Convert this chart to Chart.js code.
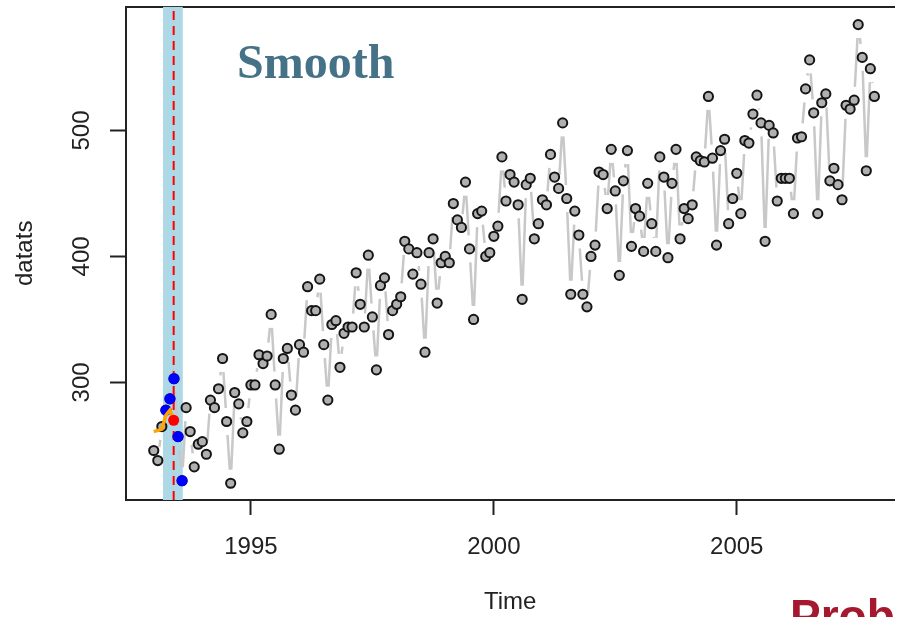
<!DOCTYPE html>
<html><head><meta charset="utf-8">
<script src="https://cdn.jsdelivr.net/npm/chart.js@4/dist/chart.umd.min.js"></script>
<style>
html,body{margin:0;padding:0;background:#fff;overflow:hidden;}
#wrap{position:relative;width:901px;height:617px;overflow:hidden;}
canvas{position:absolute;left:0;top:0;}
#smooth{position:absolute;left:237px;top:38px;font:bold 48px "Liberation Serif";color:#467287;line-height:1;white-space:nowrap;}
#prob{position:absolute;left:790px;top:593px;font:bold 46px "Liberation Sans";color:#A5192E;line-height:1;white-space:nowrap;}
</style></head>
<body><div id="wrap"><canvas id="c" width="901" height="617"></canvas><div id="smooth">Smooth</div><div id="prob">Prob</div></div>
<script>
// monthly series, starting Jan 1993
const tsStart = 1993, tsFrequency = 12;
const datats = [
 246,238,265,278,287,303,257,222,280,261,233,251,
 253,243,286,280,295,319,269,220,292,283,260,269,
 298,298,322,315,321,354,298,247,319,327,290,278,
 330,324,376,357,357,382,330,286,346,349,312,339,
 344,344,387,362,344,401,352,310,377,383,338,357,
 362,368,412,406,386,403,378,324,403,414,363,395,
 400,395,442,429,423,459,406,350,434,436,400,403,
 416,424,479,444,465,459,441,366,457,462,414,426,
 445,441,481,463,454,506,446,370,436,417,370,360,
 400,409,467,465,438,485,452,385,460,484,408,438,
 432,404,458,426,404,479,463,399,458,485,414,438,
 430,441,479,476,475,527,478,409,484,493,426,446,
 466,434,492,490,513,528,506,412,504,498,444,462,
 462,462,434,494,495,533,556,514,434,522,529,460,
 470,457,445,520,517,524,584,558,468,549,527
];
const windowIdx = [3,4,5,6,7];            // points inside the kernel window (blue)
const smoothTrace = [261,262,263,274,278,270]; // smoothed values so far (orange), from Jan 1993
const smoothValue = [270];                // current smoothed value (red)
const windowCentre = [1993.41];
const windowBand = [1993.19, 1993.60];
const xTicks = [1995, 2000, 2005];
const yTicks = [300, 400, 500];

const X_MIN = 1992.429, X_MAX = 2008.245, Y_MIN = 206.7, Y_MAX = 598.3;
const GAP = 13.5;
const time = datats.map((_, i) => tsStart + i / tsFrequency);
const pts = datats.map((v, i) => ({x: time[i], y: v}));
const BAND_INDEX = 5;

const gappedLines = {
  id: 'gappedLines',
  afterDatasetDraw(chart, args) {
    if (args.index !== BAND_INDEX) return;
    const {ctx, chartArea: a} = chart;
    const xs = chart.scales.x, ys = chart.scales.y;
    ctx.save();
    ctx.beginPath(); ctx.rect(a.left, a.top, a.right - a.left, a.bottom - a.top); ctx.clip();
    ctx.strokeStyle = '#c8c8c8'; ctx.lineWidth = 2.5; ctx.lineCap = 'butt';
    ctx.beginPath();
    for (let i = 0; i < datats.length - 1; i++) {
      const x0 = xs.getPixelForValue(time[i]), y0 = ys.getPixelForValue(datats[i]);
      const x1 = xs.getPixelForValue(time[i+1]), y1 = ys.getPixelForValue(datats[i+1]);
      const dx = x1 - x0, dy = y1 - y0, L = Math.hypot(dx, dy);
      if (L <= 2 * GAP) continue;
      const ux = dx / L, uy = dy / L;
      ctx.moveTo(x0 + ux * GAP, y0 + uy * GAP);
      ctx.lineTo(x1 - ux * GAP, y1 - uy * GAP);
    }
    ctx.stroke();
    ctx.restore();
  }
};

const FONT = {family: 'Liberation Sans', size: 24};
const INK = '#222';
function zeroPad(s) { s.paddingTop = 0; s.paddingBottom = 0; s.paddingLeft = 0; s.paddingRight = 0; }

new Chart(document.getElementById('c'), {
  type: 'scatter',
  data: {
    datasets: [
      {type: 'scatter', label: 'smooth value', data: smoothValue.map(v => ({x: windowCentre[0], y: v})),
       pointRadius: 5.5, backgroundColor: '#ff0000', borderColor: '#ff0000', borderWidth: 0},
      {type: 'line', label: 'smooth trace', data: smoothTrace.map((v, i) => ({x: time[i], y: v})),
       borderColor: '#ffa500', borderWidth: 3.5, pointRadius: 0, tension: 0, fill: false},
      {type: 'scatter', label: 'window', data: windowIdx.map(i => pts[i]),
       pointRadius: 5.5, backgroundColor: '#0000ff', borderWidth: 0},
      {type: 'line', label: 'centre', data: [{x: windowCentre[0], y: Y_MIN}, {x: windowCentre[0], y: Y_MAX}],
       borderColor: '#ff0000', borderWidth: 2, borderDash: [9, 6], pointRadius: 0, fill: false},
      {type: 'scatter', label: 'datats', data: pts,
       pointRadius: 4.6, backgroundColor: '#b0b0b0', borderColor: '#151515', borderWidth: 2},
      {type: 'line', label: 'band', data: [{x: windowBand[0], y: Y_MAX}, {x: windowBand[1], y: Y_MAX}],
       fill: 'start', backgroundColor: '#add8e6', borderWidth: 0, pointRadius: 0}
    ]
  },
  options: {
    responsive: false, devicePixelRatio: 1, animation: false, events: [],
    layout: {padding: 0},
    plugins: {legend: {display: false}, tooltip: {enabled: false}},
    scales: {
      x: {type: 'linear', position: 'bottom', min: X_MIN, max: X_MAX,
        afterBuildTicks: s => { s.ticks = xTicks.map(v => ({value: v})); },
        afterFit: s => { s.height = 117; zeroPad(s); },
        grid: {drawOnChartArea: false, drawTicks: true, tickLength: 15, tickWidth: 2, tickColor: INK},
        border: {display: true, color: INK, width: 2},
        ticks: {font: FONT, color: INK, padding: 18, maxRotation: 0, minRotation: 0, autoSkip: false, callback: v => String(v)},
        title: {display: true, text: 'Time', font: FONT, color: INK, padding: {top: 0, bottom: 0}}
      },
      xTop: {type: 'linear', position: 'top', min: X_MIN, max: X_MAX,
        afterFit: s => { s.height = 6; zeroPad(s); },
        grid: {drawOnChartArea: false, drawTicks: false},
        border: {display: true, color: INK, width: 2},
        ticks: {display: false}
      },
      y: {type: 'linear', position: 'left', min: Y_MIN, max: Y_MAX,
        afterBuildTicks: s => { s.ticks = yTicks.map(v => ({value: v})); },
        afterFit: s => { s.width = 126; zeroPad(s); },
        grid: {drawOnChartArea: false, drawTicks: true, tickLength: 16, tickWidth: 2, tickColor: INK},
        border: {display: true, color: INK, width: 2},
        ticks: {font: FONT, color: INK, padding: 8, minRotation: 90, maxRotation: 90, crossAlign: 'center', autoSkip: false, callback: v => String(v)},
        title: {display: true, text: 'datats', font: FONT, color: INK, padding: {top: 11, bottom: 0}}
      }
    }
  },
  plugins: [gappedLines]
});
</script>
</body></html>
